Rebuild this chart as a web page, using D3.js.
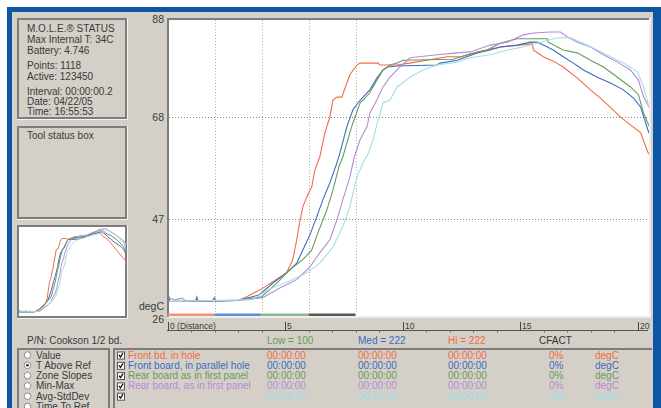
<!DOCTYPE html>
<html>
<head>
<meta charset="utf-8">
<script src="https://cdn.jsdelivr.net/npm/d3@7"></script>
<style>
	body { margin: 0; background: #fff; }
	svg { display: block; font-family: "Liberation Sans", Arial, sans-serif; }
</style>
</head>
<body>
<div id="chart"></div>
<script>
// ---- data ----
const statusLines = ['M.O.L.E.\u00AE STATUS', 'Max Internal T: 34C', 'Battery: 4.746', 'Points: 1118', 'Active: 123450', 'Interval: 00:00:00.2', 'Date: 04/22/05', 'Time: 16:55:53'];
const radioOptions = ['Value', 'T Above Ref', 'Zone Slopes', 'Min-Max', 'Avg-StdDev', 'Time To Ref'];
const selectedOption = 'T Above Ref';
const partNumber = 'P/N: Cookson 1/2 bd.';
const zoneHeaders = ['Low = 100', 'Med = 222', 'Hi = 222', 'CFACT'];

const seriesNames = ['Front bd. in hole', 'Front board, in parallel hole', 'Rear board as in first panel', 'Rear board, as in first panel', ''];
const seriesLow = ['00:00:00', '00:00:00', '00:00:00', '00:00:00', '00:00:00'];
const seriesMed = ['00:00:00', '00:00:00', '00:00:00', '00:00:00', '00:00:00'];
const seriesHi = ['00:00:00', '00:00:00', '00:00:00', '00:00:00', '00:00:00'];
const seriesCfact = ['0%', '0%', '0%', '0%', '0%'];
const seriesUnit = ['degC', 'degC', 'degC', 'degC', 'degC'];

const yTicks = [88, 68, 47, 26];
const yGrid = [68, 47];
const xMajor = [0, 5, 10, 15, 20];
const xMajorLabels = ['0 (Distance)', '5', '10', '15', '20'];
const xMinor = [1, 2, 3, 4, 6, 7, 8, 9, 11, 12, 13, 14, 16, 17, 18, 19];
const xGrid = [2, 4, 6, 8];
const zoneBreaks = [0, 2, 4, 6, 8];

// [distance, degC]
const frontHole = [[0,30.0],[1.5,30.1],[3.0,30.2],[3.37,31.0],[4.01,32.6],[4.65,34.6],[5.07,35.9],[5.33,38.6],[5.5,42.7],[5.63,46.4],[5.76,49.5],[5.93,51.5],[6.14,53.6],[6.27,57.0],[6.48,59.7],[6.7,64.7],[6.91,67.9],[7.04,71.4],[7.21,72.0],[7.42,72.0],[7.63,74.9],[7.76,76.6],[8.06,78.6],[8.19,79.0],[8.96,79.0],[9.04,78.6],[9.77,78.6],[10.3,79.0],[11.9,80.3],[12.5,80.3],[13.2,81.3],[14.16,82.3],[15.44,82.9],[15.52,83.1],[15.57,81.7],[15.99,80.3],[16.42,79.4],[16.84,78.2],[17.44,75.9],[18.0,73.5],[18.42,71.8],[18.85,69.9],[19.28,67.9],[19.7,66.3],[20.13,64.7],[20.44,60.7],[20.5,60.3]];
const frontParallel = [[0,30.0],[0.05,31.2],[0.1,30.0],[1.2,30.0],[1.25,30.9],[1.3,30.0],[1.9,30.1],[2.0,30.8],[2.05,30.1],[3.0,30.2],[3.92,31.4],[4.48,33.8],[5.07,35.9],[5.5,37.9],[5.76,40.6],[6.06,43.7],[6.35,47.4],[6.61,50.9],[6.91,54.4],[7.21,58.5],[7.33,60.4],[7.63,65.9],[7.89,69.4],[8.1,70.8],[8.32,72.0],[8.61,73.5],[8.91,75.9],[9.17,77.6],[9.38,78.2],[9.77,78.4],[11.47,78.6],[11.6,79.0],[12.32,79.6],[13.18,81.1],[13.73,81.7],[14.16,82.3],[14.88,82.7],[15.44,83.3],[15.74,83.3],[15.99,82.7],[16.42,81.7],[16.84,80.3],[17.27,79.0],[17.7,77.6],[18.29,76.1],[18.85,74.9],[19.4,73.5],[19.83,71.8],[20.13,70.0],[20.44,65.3],[20.5,64.5]];
const rearFirst = [[0,30.0],[3.0,30.2],[4.01,31.0],[4.65,33.8],[5.2,36.5],[5.76,38.6],[6.14,40.6],[6.4,44.1],[6.78,48.8],[7.04,52.9],[7.3,57.8],[7.46,59.7],[7.76,64.7],[7.89,66.7],[8.19,70.8],[8.32,71.4],[8.61,72.9],[8.91,75.5],[9.17,77.6],[9.47,78.6],[9.77,79.0],[10.02,79.6],[12.15,79.8],[12.75,80.7],[13.6,81.7],[14.16,83.1],[14.88,84.0],[16.16,84.0],[16.2,83.3],[16.84,81.7],[17.44,81.1],[18.0,79.6],[18.55,78.2],[19.15,76.1],[19.7,74.1],[20.04,72.5],[20.26,68.7],[20.5,66.0]];
const rearFirst2 = [[0,30.0],[0.1,30.7],[0.3,30.3],[0.6,30.7],[0.8,30.1],[3.0,30.2],[4.05,30.8],[4.78,32.8],[5.5,34.5],[6.06,37.1],[6.48,40.0],[6.91,42.7],[7.21,46.8],[7.46,50.9],[7.76,55.6],[7.95,59.7],[8.19,63.2],[8.49,65.9],[8.61,68.7],[8.91,71.4],[9.17,74.1],[9.47,76.1],[9.89,78.2],[10.32,80.1],[11.47,80.7],[12.32,81.1],[12.88,81.3],[13.73,82.7],[14.46,83.3],[15.14,84.8],[15.57,85.2],[16.29,85.4],[16.72,85.4],[17.01,84.4],[17.44,83.3],[18.0,82.3],[18.55,80.7],[19.15,79.2],[19.7,77.6],[20.04,75.5],[20.26,72.1],[20.5,69.8]];
const unnamed = [[0,30.0],[3.62,30.4],[4.35,32.6],[5.2,34.2],[5.93,35.9],[6.48,37.9],[7.04,41.2],[7.46,45.4],[7.76,49.5],[8.06,55.6],[8.32,58.5],[8.55,60.5],[8.74,63.2],[8.96,67.3],[9.17,70.8],[9.47,71.4],[9.77,74.1],[10.32,76.1],[10.87,77.6],[11.47,78.6],[12.32,79.2],[12.88,80.1],[13.73,80.7],[14.46,81.7],[15.14,82.3],[15.86,83.3],[16.59,84.2],[17.14,84.2],[17.7,83.1],[18.29,81.7],[18.85,80.3],[19.4,79.0],[20.0,77.2],[20.26,74.1],[20.5,69.8]];
const allSeries = [frontHole, frontParallel, rearFirst, rearFirst2, unnamed];

// ---- styles ----
const seriesColors = ['#f26b43', '#3b6dbf', '#6a9b58', '#b38cd6', '#a3dfe3'];
const headerColors = ['#6a9b58', '#3b6dbf', '#f26b43', '#333'];
const zoneColors = ['#f49079', '#5d8fd6', '#8fb38a', '#5a5a5a'];
const bg = '#d4d0c8';
const frameBlue = '#0d56a6';
const darkEdge = '#7d7d7d';
const textColor = '#3a3a3a';

const svg = d3.select('#chart').append('svg').attr('width', 661).attr('height', 408);

// window chrome
svg.append('rect').attr('width', 661).attr('height', 408).attr('fill', '#fff');
svg.append('rect').attr('x', 7).attr('y', 7).attr('width', 654).attr('height', 401).attr('fill', frameBlue);
svg.append('rect').attr('x', 12).attr('y', 12).attr('width', 641).attr('height', 396).attr('fill', bg);

// sunken box helper
function box(x, y, w, h, fill) {
	svg.append('rect').attr('x', x).attr('y', y).attr('width', w).attr('height', h).attr('fill', fill);
	svg.append('rect').attr('x', x + 1).attr('y', y + 1).attr('width', w - 2).attr('height', h - 2)
		.attr('fill', 'none').attr('stroke', darkEdge).attr('stroke-width', 2);
	svg.append('path').attr('d', `M${x},${y + h + 0.5}H${x + w + 0.5}V${y}`)
		.attr('fill', 'none').attr('stroke', '#f4f4f4').attr('stroke-width', 1);
}

// status box
box(17, 18, 110, 101, bg);
svg.append('g').selectAll('text')
	.data(statusLines)
	.join('text')
	.attr('x', 27)
	.attr('y', (d, i) => [32, 43, 54, 69, 80, 95, 105, 115][i])
	.attr('font-size', 10)
	.attr('fill', textColor)
	.text(d => d);

// tool status box
box(17, 126, 110, 93, bg);
svg.append('text').attr('x', 27).attr('y', 139).attr('font-size', 10).attr('fill', textColor).text('Tool status box');

// mini overview chart
box(17, 225, 110, 93, '#fff');
const miniX = d3.scaleLinear().domain([0, 20.5]).range([19, 127]);
const miniY = d3.scaleLinear().domain([26, 88]).range([318, 225]);
svg.append('clipPath').attr('id', 'mini-clip').append('rect').attr('x', 19).attr('y', 227).attr('width', 107).attr('height', 89);
const miniLine = d3.line().x(d => miniX(d[0])).y(d => miniY(d[1]));
svg.append('g').attr('clip-path', 'url(#mini-clip)')
	.selectAll('path')
	.data(allSeries)
	.join('path')
	.attr('d', miniLine)
	.attr('fill', 'none')
	.attr('stroke', (d, i) => seriesColors[i])
	.attr('stroke-width', 1);

// main plot
const xScale = d3.scaleLinear().domain([0, 20]).range([167.5, 637.5]);
const yScale = d3.scaleLinear().domain([26, 88]).range([321, 19.3]);

svg.append('rect').attr('x', 167).attr('y', 18).attr('width', 483).attr('height', 299).attr('fill', '#fff');
svg.append('path').attr('d', 'M650,18V317H167').attr('fill', 'none').attr('stroke', '#eeeeee').attr('stroke-width', 2);
svg.append('path').attr('d', 'M168,317V19H649').attr('fill', 'none').attr('stroke', darkEdge).attr('stroke-width', 2);

// grid
svg.append('g').selectAll('line')
	.data(yGrid)
	.join('line')
	.attr('x1', 169).attr('x2', 648)
	.attr('y1', d => Math.round(yScale(d)) + 0.5).attr('y2', d => Math.round(yScale(d)) + 0.5)
	.attr('stroke', '#8a8a8a').attr('stroke-dasharray', '1,2');
svg.append('g').selectAll('line')
	.data(xGrid)
	.join('line')
	.attr('x1', d => Math.round(xScale(d)) + 0.5).attr('x2', d => Math.round(xScale(d)) + 0.5)
	.attr('y1', 20).attr('y2', 313)
	.attr('stroke', '#b0b0b0').attr('stroke-dasharray', '1,2');

// zone bar
svg.append('g').selectAll('rect')
	.data(d3.pairs(zoneBreaks))
	.join('rect')
	.attr('x', d => xScale(d[0]))
	.attr('width', d => xScale(d[1]) - xScale(d[0]))
	.attr('y', 313.5).attr('height', 2.5)
	.attr('fill', (d, i) => zoneColors[i]);

// curves
svg.append('clipPath').attr('id', 'plot-clip').append('rect').attr('x', 169).attr('y', 20).attr('width', 480).attr('height', 296);
const line = d3.line().x(d => xScale(d[0])).y(d => yScale(d[1]));
svg.append('g').attr('clip-path', 'url(#plot-clip)')
	.selectAll('path')
	.data(allSeries)
	.join('path')
	.attr('d', line)
	.attr('fill', 'none')
	.attr('stroke', (d, i) => seriesColors[i])
	.attr('stroke-width', 1.1);

// y axis labels
const yAxisG = svg.append('g').attr('transform', 'translate(168,0)')
	.call(d3.axisLeft(yScale).tickValues(yTicks).tickSize(0).tickPadding(4));
yAxisG.select('.domain').remove();
yAxisG.selectAll('text').attr('font-size', 10.5).attr('fill', textColor).attr('font-family', null)
	.attr('dy', d => d === 26 ? '0.1em' : '0.35em');
svg.append('text').attr('x', 164).attr('y', 310).attr('text-anchor', 'end').attr('font-size', 10.5).attr('fill', textColor).text('degC');

// x axis (distance)
svg.append('line').attr('x1', 167).attr('x2', 648).attr('y1', 330.5).attr('y2', 330.5).attr('stroke', '#555');
svg.append('g').selectAll('line')
	.data(xMinor)
	.join('line')
	.attr('x1', d => Math.round(xScale(d)) + 0.5).attr('x2', d => Math.round(xScale(d)) + 0.5)
	.attr('y1', 330).attr('y2', 332.5)
	.attr('stroke', '#666');
const majors = svg.append('g').selectAll('g')
	.data(xMajor)
	.join('g')
	.attr('transform', d => `translate(${Math.round(xScale(d)) + 0.5},0)`);
majors.append('line').attr('y1', 322).attr('y2', 331).attr('stroke', '#444');
majors.append('text').attr('x', 1.5).attr('y', 329).attr('font-size', 8.5).attr('fill', textColor)
	.text((d, i) => xMajorLabels[i]);

// header row under plot
svg.append('text').attr('x', 27).attr('y', 344).attr('font-size', 10).attr('fill', textColor).text(partNumber);
svg.append('g').selectAll('text')
	.data(zoneHeaders)
	.join('text')
	.attr('x', (d, i) => [267, 358, 448, 539][i])
	.attr('y', 344)
	.attr('font-size', 10)
	.attr('fill', (d, i) => headerColors[i])
	.text(d => d);

// radio panel
svg.append('path').attr('d', 'M18,408V349H109V408').attr('fill', 'none').attr('stroke', darkEdge).attr('stroke-width', 2);
const rowY = i => 358.5 + i * 10.3;
const radios = svg.append('g').selectAll('g')
	.data(radioOptions)
	.join('g')
	.attr('transform', (d, i) => `translate(0,${rowY(i)})`);
radios.append('circle').attr('cx', 27.5).attr('cy', -3.5).attr('r', 3.3)
	.attr('fill', '#fff').attr('stroke', '#8c8c8c').attr('stroke-width', 1);
radios.filter(d => d === selectedOption).append('circle').attr('cx', 27.5).attr('cy', -3.5).attr('r', 1.3).attr('fill', '#222');
radios.append('text').attr('x', 36).attr('font-size', 10).attr('fill', textColor).text(d => d);

// legend panel
svg.append('path').attr('d', 'M114,408V349H652').attr('fill', 'none').attr('stroke', darkEdge).attr('stroke-width', 2);
const rows = svg.append('g').selectAll('g')
	.data(seriesNames)
	.join('g')
	.attr('transform', (d, i) => `translate(0,${rowY(i)})`);
rows.append('rect').attr('x', 117.5).attr('y', -6.5).attr('width', 7).attr('height', 7)
	.attr('fill', '#fff').attr('stroke', '#555');
rows.append('path').attr('d', 'M119,-3.5L120.5,-1.5L123,-5.5').attr('fill', 'none').attr('stroke', '#111').attr('stroke-width', 1.3);
const cols = [
	{ x: 128, vals: seriesNames },
	{ x: 267, vals: seriesLow },
	{ x: 358, vals: seriesMed },
	{ x: 448, vals: seriesHi },
	{ x: 549, vals: seriesCfact },
	{ x: 595, vals: seriesUnit },
];
cols.forEach(c => {
	rows.append('text')
		.attr('x', c.x)
		.attr('font-size', 10)
		.attr('fill', (d, i) => seriesColors[i])
		.text((d, i) => c.vals[i]);
});
</script>
</body>
</html>
